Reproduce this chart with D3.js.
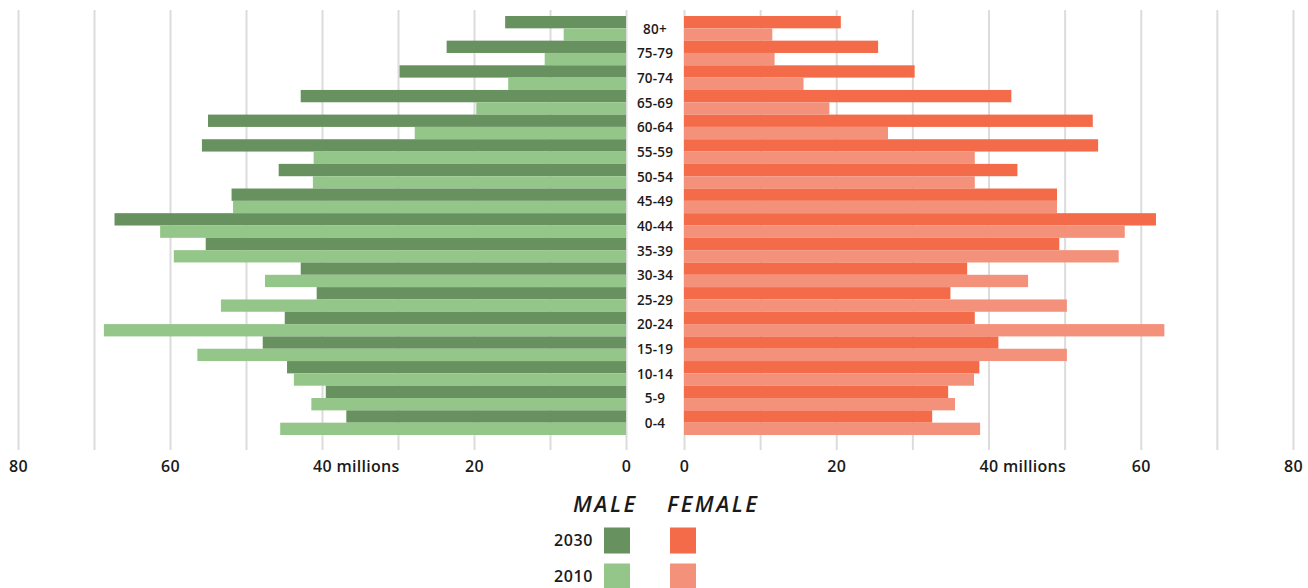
<!DOCTYPE html>
<html>
<head>
<meta charset="utf-8">
<script src="https://cdn.jsdelivr.net/npm/d3@7"></script>
<style>
  body { margin: 0; background: #fff; }
  text { font-family: "Open Sans", sans-serif; fill: #1a1a1a; }
</style>
</head>
<body>
<div id="chart"></div>
<script>
// ages top to bottom
const ages = ['80+', '75-79', '70-74', '65-69', '60-64', '55-59', '50-54', '45-49',
  '40-44', '35-39', '30-34', '25-29', '20-24', '15-19', '10-14', '5-9', '0-4']
const years = ['2030', '2010']
const sexes = ['MALE', 'FEMALE']

// millions
const male2030 = [15.9, 23.6, 29.8, 42.8, 55.0, 55.8, 45.7, 51.9, 67.3, 55.3, 42.8, 40.7, 44.9, 47.8, 44.6, 39.5, 36.8]
const male2010 = [8.2, 10.7, 15.5, 19.7, 27.8, 41.1, 41.2, 51.7, 61.3, 59.5, 47.5, 53.3, 68.7, 56.4, 43.7, 41.4, 45.5]
const female2030 = [20.6, 25.5, 30.3, 43.0, 53.7, 54.4, 43.8, 49.0, 62.0, 49.3, 37.2, 35.0, 38.2, 41.3, 38.8, 34.7, 32.6]
const female2010 = [11.6, 11.9, 15.7, 19.1, 26.8, 38.2, 38.2, 49.0, 57.9, 57.1, 45.2, 50.3, 63.1, 50.3, 38.1, 35.6, 38.9]

const xTicks = [0, 10, 20, 30, 40, 50, 60, 70, 80]

const colors = {
  MALE: { '2030': '#67915f', '2010': '#95c689' },
  FEMALE: { '2030': '#f46b49', '2010': '#f4917b' }
}

const width = 1308
const height = 588

const svg = d3.select('#chart')
  .append('svg')
  .attr('width', width)
  .attr('height', height)

// scales
const xLeft = d3.scaleLinear().domain([0, 80]).range([626, 18])
const xRight = d3.scaleLinear().domain([0, 80]).range([684, 1293])

const yScale = d3.scaleBand()
  .domain(ages)
  .range([16, 435])

const yInner = d3.scaleBand()
  .domain(years)
  .range([0, yScale.bandwidth()])

const gridTop = 10
const axisY = 450

// axes with gridlines
function drawAxis(scale) {
  const g = svg.append('g')
    .attr('transform', `translate(0, ${axisY})`)
    .call(d3.axisBottom(scale)
      .tickValues(xTicks)
      .tickSize(-(axisY - gridTop))
      .tickPadding(0)
      .tickFormat(d => d % 20 === 0 ? d : ''))
  g.select('.domain').remove()
  g.selectAll('.tick line')
    .attr('stroke', '#dcdcdc')
    .attr('stroke-width', 2)
  g.selectAll('.tick text')
    .attr('y', 22)
    .attr('dy', 0)
    .style('font-size', '16px')
    .style('font-weight', 600)
    .style('letter-spacing', '0.3px')
    .attr('fill', '#1a1a1a')
  // "40 millions": number stays on the tick, unit runs to the right
  g.selectAll('.tick text')
    .filter(d => d === 40)
    .each(function() {
      const t = d3.select(this)
      const w = this.getComputedTextLength()
      t.attr('text-anchor', 'start').attr('x', -w / 2)
      t.text('')
      t.append('tspan').text('40')
      t.append('tspan').text(' millions')
    })
}
drawAxis(xLeft)
drawAxis(xRight)

// bars
const rows = ages.map((age, i) => ({
  age: age,
  MALE: { '2030': male2030[i], '2010': male2010[i] },
  FEMALE: { '2030': female2030[i], '2010': female2010[i] }
}))

const bars = svg.append('g')
rows.forEach(r => {
  years.forEach(yr => {
    bars.append('rect')
      .attr('x', xLeft(r.MALE[yr]))
      .attr('y', yScale(r.age) + yInner(yr))
      .attr('width', xLeft(0) - xLeft(r.MALE[yr]))
      .attr('height', yInner.bandwidth())
      .attr('fill', colors.MALE[yr])
    bars.append('rect')
      .attr('x', xRight(0))
      .attr('y', yScale(r.age) + yInner(yr))
      .attr('width', xRight(r.FEMALE[yr]) - xRight(0))
      .attr('height', yInner.bandwidth())
      .attr('fill', colors.FEMALE[yr])
  })
})

// age labels in the gap
svg.append('g')
  .selectAll('text')
  .data(ages)
  .join('text')
  .attr('x', (xLeft(0) + xRight(0)) / 2)
  .attr('y', d => yScale(d) + yScale.bandwidth() / 2 + 0.5)
  .attr('dy', '0.36em')
  .attr('text-anchor', 'middle')
  .style('font-size', '13.5px')
  .style('font-weight', 600)
  .style('letter-spacing', '0.2px')
  .text(d => d)

// legend
const legendX = { MALE: 617, FEMALE: 683 }
const legend = svg.append('g')
legend.selectAll('.sex')
  .data(sexes)
  .join('text')
  .attr('class', 'sex')
  .attr('x', (d, i) => (i === 0 ? 604 : 712) + 1.25)
  .attr('y', 512)
  .attr('text-anchor', 'middle')
  .style('font-size', '22px')
  .style('font-style', 'italic')
  .style('font-weight', 600)
  .style('letter-spacing', '2.5px')
  .text(d => d)

years.forEach((yr, j) => {
  const top = 527.5 + j * 36
  legend.append('text')
    .attr('x', 593)
    .attr('y', top + 13)
    .attr('dy', '0.36em')
    .attr('text-anchor', 'end')
    .style('font-size', '16px')
    .style('font-weight', 600)
    .style('letter-spacing', '0.6px')
    .text(yr)
  sexes.forEach(s => {
    legend.append('rect')
      .attr('x', legendX[s] - 13)
      .attr('y', top)
      .attr('width', 26)
      .attr('height', 26)
      .attr('fill', colors[s][yr])
  })
})
</script>
</body>
</html>
